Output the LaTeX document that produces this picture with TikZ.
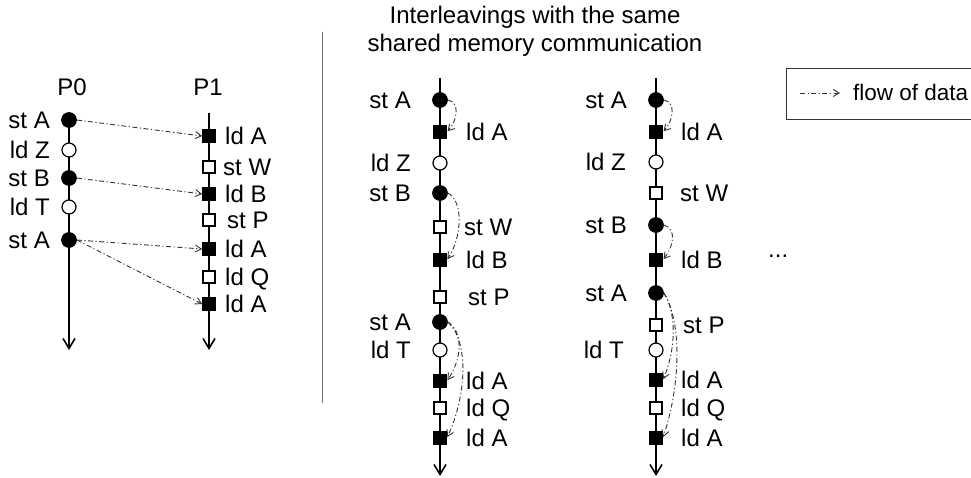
\documentclass[tikz,border=0pt]{standalone}
\usepackage{fontspec}
\setmainfont{Liberation Sans}
\usetikzlibrary{arrows.meta}
\begin{document}
\begin{tikzpicture}[x=1pt,y=-1pt,
  every node/.style={font=\fontsize{24}{29}\selectfont, inner sep=0pt},
  timeline/.style={line width=1.8pt, -{Straight Barb[length=10pt,width=12pt,line width=1.6pt]}},
  fullc/.style={circle, draw, fill=black, minimum size=14.5pt, line width=1.2pt},
  openc/.style={circle, draw, fill=white, minimum size=14pt, line width=1.2pt},
  fulls/.style={rectangle, draw, fill=black, minimum size=12.5pt, line width=1.2pt},
  opens/.style={rectangle, draw, fill=white, minimum size=12pt, line width=1.2pt},
  lw/.style={anchor=base east},
  le/.style={anchor=base west},
  flow/.style={draw=black!80, line width=0.9pt,
    dash pattern=on 5pt off 2.5pt on 1.2pt off 2.5pt,
    -{Straight Barb[length=6pt,width=7pt,line width=0.9pt]}},
]
\useasboundingbox (0,0) rectangle (971,478);

% ---------------- two processors ----------------
\node (p0) at (72,87) {P0};
\node (p1) at (208,87) {P1};
\coordinate (p0top) at (69,120);
\coordinate (p0bot) at (69,350);
\coordinate (p1top) at (209,113);
\coordinate (p1bot) at (209,350);
\draw[timeline] (p0top) -- (p0bot);
\draw[timeline] (p1top) -- (p1bot);

\node[fullc] (a1) at (69,120) {};
\node[openc] (a2) at (69,150) {};
\node[fullc] (a3) at (69,178) {};
\node[openc] (a4) at (69,207) {};
\node[fullc] (a5) at (69,240) {};
\node[lw] (la1) at (50,128.5) {st A};
\node[lw] (la2) at (50,158.5) {ld Z};
\node[lw] (la3) at (50,186.5) {st B};
\node[lw] (la4) at (50,215.5) {ld T};
\node[lw] (la5) at (50,248.5) {st A};

\node[fulls] (b1) at (209,136) {};
\node[opens] (b2) at (209,167) {};
\node[fulls] (b3) at (209,194) {};
\node[opens] (b4) at (209,220) {};
\node[fulls] (b5) at (209,249) {};
\node[opens] (b6) at (209,277) {};
\node[fulls] (b7) at (209,304) {};
\node[le] (lb1) at (225,144.5) {ld A};
\node[le] (lb2) at (223,175.5) {st W};
\node[le] (lb3) at (225,202.5) {ld B};
\node[le] (lb4) at (227,228.5) {st P};
\node[le] (lb5) at (225,257.5) {ld A};
\node[le] (lb6) at (225,285.5) {ld Q};
\node[le] (lb7) at (225,312.5) {ld A};

\draw[flow] (a1.east) -- (b1.west);
\draw[flow] (a3.east) -- (b3.west);
\draw[flow] (a5.east) -- (b5.west);
\draw[flow] (a5.east) -- (b7.west);

% ---------------- separator ----------------
\coordinate (sept) at (322.5,32);
\coordinate (sepb) at (322.5,403);
\draw[black!55, line width=1.3pt] (sept) -- (sepb);

\node (title1) at (535,17) {Interleavings with the same};
\node (title2) at (535,45) {shared memory communication};

% ---------------- first interleaving ----------------
\coordinate (mtop) at (440,78);
\coordinate (mbot) at (440,476);
\draw[timeline] (mtop) -- (mbot);

\node[fullc] (m1) at (440,100) {};
\node[fulls] (m2) at (440,132) {};
\node[openc] (m3) at (440,163) {};
\node[fullc] (m4) at (440,193) {};
\node[opens] (m5) at (440,227) {};
\node[fulls] (m6) at (440,260) {};
\node[opens] (m7) at (440,297) {};
\node[fullc] (m8) at (440,322) {};
\node[openc] (m9) at (440,350) {};
\node[fulls] (m10) at (440,381) {};
\node[opens] (m11) at (440,408) {};
\node[fulls] (m12) at (440,438) {};

\node[lw] (lm1) at (411,108.5) {st A};
\node[le] (lm2) at (466,140.5) {ld A};
\node[lw] (lm3) at (411,171.5) {ld Z};
\node[lw] (lm4) at (411,201.5) {st B};
\node[le] (lm5) at (464,235.5) {st W};
\node[le] (lm6) at (466,268.5) {ld B};
\node[le] (lm7) at (468,305.5) {st P};
\node[lw] (lm8) at (411,330.5) {st A};
\node[lw] (lm9) at (411,358.5) {ld T};
\node[le] (lm10) at (466,389.5) {ld A};
\node[le] (lm11) at (466,416.5) {ld Q};
\node[le] (lm12) at (466,446.5) {ld A};

\draw[flow, shorten >=1pt] (m1.east) .. controls +(12,2) and +(11,-12) .. (m2.east);
\draw[flow, shorten >=1pt] (m4.east) .. controls +(16,8) and +(15,-22) .. (m6.east);
\draw[flow, shorten >=1pt] (m8.east) .. controls +(16,10) and +(15,-22) .. (m10.east);
\draw[flow, shorten >=1pt] (m8.east) .. controls +(22,20) and +(19,-40) .. (m12.east);

% ---------------- second interleaving ----------------
\coordinate (ntop) at (656,78);
\coordinate (nbot) at (656,476);
\draw[timeline] (ntop) -- (nbot);

\node[fullc] (n1) at (656,100) {};
\node[fulls] (n2) at (656,132) {};
\node[openc] (n3) at (656,162) {};
\node[opens] (n4) at (656,193) {};
\node[fullc] (n5) at (656,225) {};
\node[fulls] (n6) at (656,260) {};
\node[fullc] (n7) at (656,293) {};
\node[opens] (n8) at (656,325) {};
\node[openc] (n9) at (656,350) {};
\node[fulls] (n10) at (656,380) {};
\node[opens] (n11) at (656,408) {};
\node[fulls] (n12) at (656,438) {};

\node[lw] (ln1) at (627,108.5) {st A};
\node[le] (ln2) at (681,140.5) {ld A};
\node[lw] (ln3) at (626,170.5) {ld Z};
\node[le] (ln4) at (680,201.5) {st W};
\node[lw] (ln5) at (627,233.5) {st B};
\node[le] (ln6) at (681,268.5) {ld B};
\node[lw] (ln7) at (627,301.5) {st A};
\node[le] (ln8) at (683,333.5) {st P};
\node[lw] (ln9) at (624,358.5) {ld T};
\node[le] (ln10) at (681,388.5) {ld A};
\node[le] (ln11) at (681,416.5) {ld Q};
\node[le] (ln12) at (681,446.5) {ld A};

\draw[flow, shorten >=1pt] (n1.east) .. controls +(12,2) and +(11,-12) .. (n2.east);
\draw[flow, shorten >=1pt] (n5.east) .. controls +(13,4) and +(11,-14) .. (n6.east);
\draw[flow, shorten >=1pt] (n7.east) .. controls +(13,20) and +(13,-30) .. (n10.east);
\draw[flow, shorten >=1pt] (n7.east) .. controls +(19,30) and +(17,-50) .. (n12.east);

\node[anchor=base west] (more) at (768,258) {...};

% ---------------- legend ----------------
\draw[black!80, line width=1pt] (786,69) rectangle (990,120);
\coordinate (kfrom) at (800,93);
\coordinate (kto) at (840,93);
\draw[flow] (kfrom) -- (kto);
\node[anchor=base west, font=\fontsize{22.5}{27}\selectfont] (ktext) at (853,101) {flow of data};
\end{tikzpicture}
\end{document}
